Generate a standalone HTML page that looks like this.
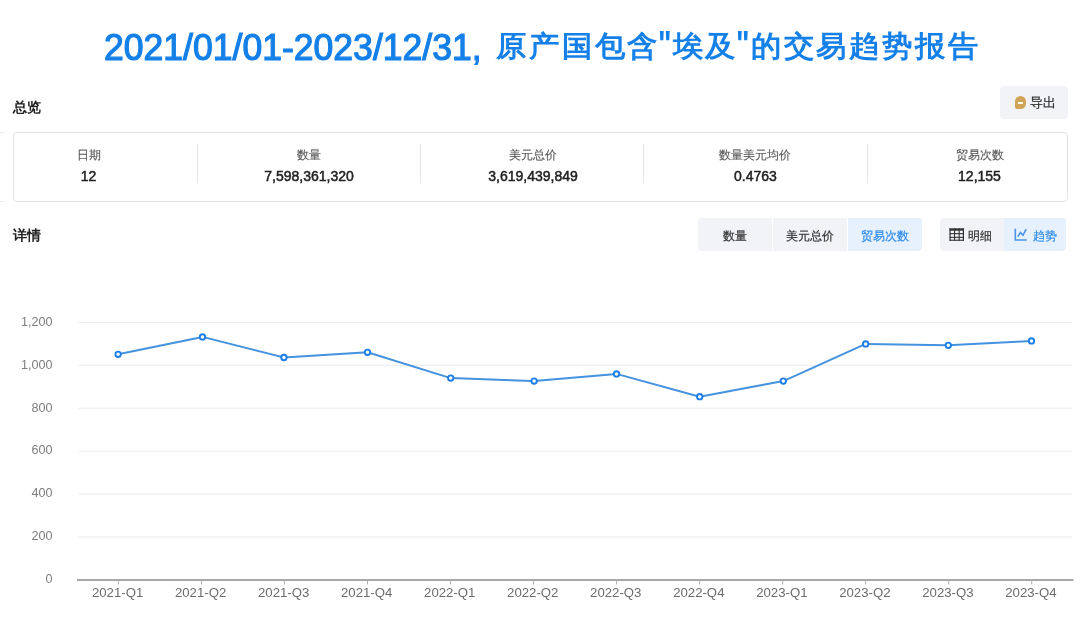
<!DOCTYPE html>
<html><head><meta charset="utf-8">
<style>
*{margin:0;padding:0;box-sizing:border-box}
html,body{width:1080px;height:628px;background:#fff;overflow:hidden;font-family:"Liberation Sans",sans-serif;color:#333}
#root{position:absolute;left:0;top:0;width:1080px;height:628px;will-change:transform}
.abs{position:absolute}
#t1{left:104.3px;top:26px;font-size:37px;font-weight:normal;-webkit-text-stroke:1.2px #1480e8;color:#1480e8;line-height:44px;white-space:nowrap;transform:scaleX(0.961);transform-origin:0 0}
#t2{left:496px;top:23px;font-size:30.5px;font-weight:bold;color:#1480e8;line-height:44px;white-space:nowrap;letter-spacing:1.85px;transform:scaleY(0.955);transform-origin:0 37px}
#t2 .q{display:inline-block;font-size:38px;width:12.4px;letter-spacing:0;transform:scaleX(0.75);transform-origin:0 0;position:relative;top:-1px;left:-2.7px;vertical-align:top;line-height:44px}
.h{font-size:14px;font-weight:bold;color:#222;line-height:16px}
#exp{left:1000px;top:86px;width:68px;height:33px;background:#f2f3f7;border-radius:4px;font-size:13px;color:#333}
#exp .ico{position:absolute;left:15px;top:10px;width:11px;height:13px;background:#d2a457;border-radius:5.5px 5.5px 5.5px 2px}
#exp .ico:after{content:"";position:absolute;left:3px;top:6px;width:5px;height:2px;background:#fff}
#exp span{position:absolute;left:30px;top:9px;line-height:16px;-webkit-text-stroke:0.25px #333}
#card{left:13px;top:131.5px;width:1055px;height:70px;border:1px solid #e0e2e7;border-radius:4px}
#card0{left:0;top:131.5px;width:4px;height:70px;border-top:1px solid #e8e9ec;border-bottom:1px solid #e8e9ec}
.div{position:absolute;top:144px;width:1px;height:39px;background:#e3e5ea}
.lab{position:absolute;top:146.5px;width:200px;margin-left:-100px;text-align:center;font-size:12px;color:#5c5c5c;line-height:16px;-webkit-text-stroke:0.15px #5c5c5c}
.val{position:absolute;top:167px;width:200px;margin-left:-100px;text-align:center;font-size:14px;color:#222;line-height:18px;-webkit-text-stroke:0.5px #222}
.seg{position:absolute;top:218px;height:33px;background:#f2f3f7;font-size:12px;color:#333;line-height:33px;text-align:center;padding-top:2px;-webkit-text-stroke:0.2px currentColor}
.seg.on{background:#e6f1fd;color:#2f8bec}
svg{position:absolute;left:0;top:0}
</style></head><body><div id="root">
<div id="t1" class="abs">2021/01/01-2023/12/31,</div>
<div id="t2" class="abs">原产国包含<span class="q">"</span>埃及<span class="q">"</span>的交易趋势报告</div>
<div class="abs h" style="left:13px;top:99px">总览</div>
<div id="exp" class="abs"><div class="ico"></div><span>导出</span></div>
<div id="card0" class="abs"></div>
<div id="card" class="abs"></div>
<div class="div" style="left:197px"></div>
<div class="div" style="left:420px"></div>
<div class="div" style="left:643px"></div>
<div class="div" style="left:866.6px"></div>
<div class="lab" style="left:88.5px">日期</div><div class="val" style="left:88.5px">12</div>
<div class="lab" style="left:309px">数量</div><div class="val" style="left:309px">7,598,361,320</div>
<div class="lab" style="left:532.5px">美元总价</div><div class="val" style="left:533px">3,619,439,849</div>
<div class="lab" style="left:755px">数量美元均价</div><div class="val" style="left:755.5px">0.4763</div>
<div class="lab" style="left:980px">贸易次数</div><div class="val" style="left:979.5px">12,155</div>
<div class="abs h" style="left:13px;top:227px">详情</div>
<div class="seg" style="left:698px;width:74px;border-radius:4px 0 0 4px">数量</div>
<div class="seg" style="left:773px;width:74px">美元总价</div>
<div class="seg on" style="left:848px;width:74px;border-radius:0 4px 4px 0">贸易次数</div>
<div class="seg" style="left:940px;width:64px;border-radius:4px 0 0 4px"></div>
<div class="seg on" style="left:1004px;width:62px;border-radius:0 4px 4px 0"></div>
<div class="abs" style="left:968px;top:227.5px;font-size:12px;line-height:16px;color:#333;-webkit-text-stroke:0.2px currentColor">明细</div>
<div class="abs" style="left:1032.5px;top:227.5px;font-size:12px;line-height:16px;color:#2f8bec;-webkit-text-stroke:0.2px currentColor">趋势</div>
<svg width="1080" height="628" viewBox="0 0 1080 628">
<!-- table icon -->
<g fill="#333">
<rect x="949.5" y="228.3" width="14.5" height="2.4"/>
<rect x="949.5" y="228.3" width="1.2" height="12.5"/>
<rect x="962.8" y="228.3" width="1.2" height="12.5"/>
<rect x="954" y="228.3" width="1.1" height="12.5"/>
<rect x="958.6" y="228.3" width="1.1" height="12.5"/>
<rect x="949.5" y="233.1" width="14.5" height="1.1"/>
<rect x="949.5" y="236.8" width="14.5" height="1.1"/>
<rect x="949.5" y="239.7" width="14.5" height="1.1"/>
</g>
<!-- chart icon -->
<g fill="none" stroke="#4a94e8" stroke-width="1.6">
<path d="M1015.3 228.8 V240 H1026.7"/>
<path d="M1017.8 236.6 L1020.5 232.6 L1023 235.2 L1026.2 229.2"/>
</g>
<g stroke="#e9ebef" stroke-width="1">
<line x1="78.5" x2="1072" y1="536.98" y2="536.98"/>
<line x1="78.5" x2="1072" y1="494.06" y2="494.06"/>
<line x1="78.5" x2="1072" y1="451.14" y2="451.14"/>
<line x1="78.5" x2="1072" y1="408.22" y2="408.22"/>
<line x1="78.5" x2="1072" y1="365.30" y2="365.30"/>
<line x1="78.5" x2="1072" y1="322.38" y2="322.38"/>
</g>
<line x1="77" x2="1073.5" y1="580" y2="580" stroke="#a8a8a8" stroke-width="2"/>
<g stroke="#b0b0b0" stroke-width="1">
<line x1="118.40" x2="118.40" y1="580" y2="584.5"/>
<line x1="201.43" x2="201.43" y1="580" y2="584.5"/>
<line x1="284.46" x2="284.46" y1="580" y2="584.5"/>
<line x1="367.49" x2="367.49" y1="580" y2="584.5"/>
<line x1="450.52" x2="450.52" y1="580" y2="584.5"/>
<line x1="533.55" x2="533.55" y1="580" y2="584.5"/>
<line x1="616.58" x2="616.58" y1="580" y2="584.5"/>
<line x1="699.61" x2="699.61" y1="580" y2="584.5"/>
<line x1="782.64" x2="782.64" y1="580" y2="584.5"/>
<line x1="865.67" x2="865.67" y1="580" y2="584.5"/>
<line x1="948.70" x2="948.70" y1="580" y2="584.5"/>
<line x1="1031.73" x2="1031.73" y1="580" y2="584.5"/>
</g>
<g font-family="Liberation Sans" font-size="12.6" fill="#7e7e7e" text-anchor="end">
<text x="52.6" y="583.20">0</text>
<text x="52.6" y="540.28">200</text>
<text x="52.6" y="497.36">400</text>
<text x="52.6" y="454.44">600</text>
<text x="52.6" y="411.52">800</text>
<text x="52.6" y="368.60">1,000</text>
<text x="52.6" y="325.68">1,200</text>
</g>
<g font-family="Liberation Sans" font-size="13.2" fill="#6c6c6c" text-anchor="middle">
<text x="117.60" y="597.2">2021-Q1</text>
<text x="200.63" y="597.2">2021-Q2</text>
<text x="283.66" y="597.2">2021-Q3</text>
<text x="366.69" y="597.2">2021-Q4</text>
<text x="449.72" y="597.2">2022-Q1</text>
<text x="532.75" y="597.2">2022-Q2</text>
<text x="615.78" y="597.2">2022-Q3</text>
<text x="698.81" y="597.2">2022-Q4</text>
<text x="781.84" y="597.2">2023-Q1</text>
<text x="864.87" y="597.2">2023-Q2</text>
<text x="947.90" y="597.2">2023-Q3</text>
<text x="1030.93" y="597.2">2023-Q4</text>
</g>
<polyline points="118.10,354.30 202.50,336.90 283.90,357.50 367.50,352.30 450.70,378.10 534.10,381.10 616.50,373.90 699.70,396.70 783.30,381.10 865.70,343.90 948.30,345.30 1031.50,340.90" fill="none" stroke="#4592df" stroke-width="2" stroke-linejoin="round"/>
<g fill="#fff" stroke="#1c7ee6" stroke-width="1.9">
<circle cx="118.10" cy="354.30" r="2.7"/>
<circle cx="202.50" cy="336.90" r="2.7"/>
<circle cx="283.90" cy="357.50" r="2.7"/>
<circle cx="367.50" cy="352.30" r="2.7"/>
<circle cx="450.70" cy="378.10" r="2.7"/>
<circle cx="534.10" cy="381.10" r="2.7"/>
<circle cx="616.50" cy="373.90" r="2.7"/>
<circle cx="699.70" cy="396.70" r="2.7"/>
<circle cx="783.30" cy="381.10" r="2.7"/>
<circle cx="865.70" cy="343.90" r="2.7"/>
<circle cx="948.30" cy="345.30" r="2.7"/>
<circle cx="1031.50" cy="340.90" r="2.7"/>
</g>
</svg>
</div></body></html>
